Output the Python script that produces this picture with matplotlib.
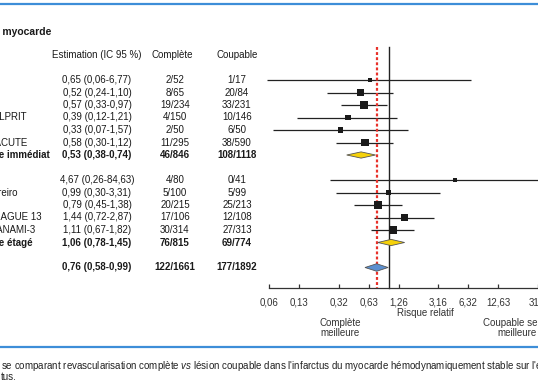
import numpy as np
import matplotlib.pyplot as plt
from matplotlib import transforms
from matplotlib.lines import Line2D

plt.rcParams['font.family'] = ['Liberation Sans Narrow', 'Liberation Sans', 'DejaVu Sans']
plt.rcParams['mathtext.fontset'] = 'custom'
plt.rcParams['mathtext.it'] = 'Liberation Sans:italic'
plt.rcParams['mathtext.rm'] = 'Liberation Sans'

# --- donnees ---
etudes_imm = ["Di Mario", "Politi", "PRAMI", "Gershlick CvLPRIT", "Hamza", "COMPARE-ACUTE"]
rr_imm = [0.65, 0.52, 0.57, 0.39, 0.33, 0.58]
bas_imm = [0.06, 0.24, 0.33, 0.12, 0.07, 0.30]
haut_imm = [6.77, 1.10, 0.97, 1.21, 1.57, 1.12]
comp_imm = ["2/52", "8/65", "19/234", "4/150", "2/50", "11/295"]
coup_imm = ["1/17", "20/84", "33/231", "10/146", "6/50", "38/590"]
poids_imm = [3.3, 10.1, 14.9, 7.4, 5.2, 11.6]

etudes_eta = ["Ghani", "Estévez-Loureiro", "Dambrink", "Hlinomaz PRAGUE 13", "Engstrøm DANAMI-3"]
rr_eta = [4.67, 0.99, 0.79, 1.44, 1.11]
bas_eta = [0.26, 0.30, 0.45, 0.72, 0.67]
haut_eta = [84.63, 3.31, 1.38, 2.87, 1.82]
comp_eta = ["4/80", "5/100", "20/215", "17/106", "30/314"]
coup_eta = ["0/41", "5/99", "25/213", "12/108", "27/313"]
poids_eta = [3.3, 5.2, 13.2, 10.1, 14.9]

sous_totaux = ["Sous-groupe immédiat", "Sous-groupe étagé", "Total"]
rr_tot = [0.53, 1.06, 0.76]
bas_tot = [0.38, 0.78, 0.58]
haut_tot = [0.74, 1.45, 0.99]
comp_tot = ["46/846", "76/815", "122/1661"]
coup_tot = ["108/1118", "69/774", "177/1892"]

ticks = [0.06, 0.13, 0.32, 0.63, 1.26, 3.16, 6.32, 12.63, 31.6]
tick_pos = [10 ** v for v in (-1.2, -0.9, -0.5, -0.2, 0.1, 0.5, 0.8, 1.1, 1.5)]


def fr(v, nd=2):
    return f"{v:.{nd}f}".replace('.', ',')


W, H = 538, 384
fig = plt.figure(figsize=(W / 100, H / 100), dpi=100)
ax = fig.add_axes([0, 0, 1, 1])
ax.set_xscale('log')
# 100 px par decade, RR = 1 a x = 390 px ; une ligne = 12,5 px, ligne 0 a y = 80 px
ax.set_xlim(10 ** (-390 / 100), 10 ** ((W - 390) / 100))
ax.set_ylim((H - 80) / 12.5, -80 / 12.5)

rows_imm = np.arange(len(rr_imm))
rows_eta = np.arange(len(rr_eta)) + len(rr_imm) + 2
rows_tot = [len(rr_imm), rows_eta[-1] + 1, rows_eta[-1] + 3]
y_axe = 16.64
y_haut = -2.64

# axe x
for s in ('top', 'left', 'right'):
    ax.spines[s].set_visible(False)
ax.spines['bottom'].set_position(('data', y_axe))
ax.spines['bottom'].set_bounds(tick_pos[0], 100)
ax.spines['bottom'].set_linewidth(0.9)
ax.spines['bottom'].set_color('#333333')
ax.set_xticks(tick_pos)
ax.set_xticklabels([fr(t, 1 if t > 20 else 2) for t in ticks])
ax.xaxis.set_minor_locator(plt.NullLocator())
ax.tick_params(axis='x', direction='in', length=3, width=0.9, pad=7,
               labelsize=7, colors='#333333')
ax.set_yticks([])
ax.patch.set_alpha(0)

# lignes verticales
ax.plot([1, 1], [y_haut, y_axe], color='#222222', lw=1.0, zorder=2)
ax.plot([rr_tot[2]] * 2, [y_haut, y_axe], color='#e8312a', lw=1.6,
        ls=(0, (1.3, 1.0)), zorder=3)

# etudes
for rows, rr, lo, hi, pw in ((rows_imm, rr_imm, bas_imm, haut_imm, poids_imm),
                             (rows_eta, rr_eta, bas_eta, haut_eta, poids_eta)):
    ax.hlines(rows, lo, hi, color='#222222', lw=0.9, zorder=2)
    side = 2.2 * np.sqrt(pw) * 0.72
    ax.scatter(rr, rows, marker='s', s=side ** 2, color='#1a1a1a', lw=0, zorder=4)

# losanges
couleurs = ['#f5d10a', '#f5d10a', '#5b8fcf']
for r, est, lo, hi, c, h in zip(rows_tot, rr_tot, bas_tot, haut_tot, couleurs, (0.25, 0.25, 0.3)):
    ax.fill([lo, est, hi, est], [r, r - h, r, r + h], facecolor=c,
            edgecolor='#555555', lw=0.6, zorder=4)

# tableau de gauche
tx = transforms.blended_transform_factory(fig.transFigure, ax.transData)
fs = 7
x_lab, x_est, x_comp, x_coup = -56 / W, 97 / W, 175 / W, 237 / W

ax.text(-60 / W, -3.84, "Infarctus du myocarde", transform=tx, ha='left', va='center',
        fontsize=7.5, fontweight='bold', color='#1a1a1a')
ax.text(97 / W, -2, "Estimation (IC 95 %)", transform=tx, ha='center', va='center', fontsize=fs, color='#1a1a1a')
ax.text(172 / W, -2, "Complète", transform=tx, ha='center', va='center', fontsize=fs, color='#1a1a1a')
ax.text(237 / W, -2, "Coupable", transform=tx, ha='center', va='center', fontsize=fs, color='#1a1a1a')

lignes = []
for i, r in enumerate(rows_imm):
    lignes.append((r, etudes_imm[i], rr_imm[i], bas_imm[i], haut_imm[i], comp_imm[i], coup_imm[i], 'normal'))
for i, r in enumerate(rows_eta):
    lignes.append((r, etudes_eta[i], rr_eta[i], bas_eta[i], haut_eta[i], comp_eta[i], coup_eta[i], 'normal'))
for i, r in enumerate(rows_tot):
    lignes.append((r, sous_totaux[i], rr_tot[i], bas_tot[i], haut_tot[i], comp_tot[i], coup_tot[i], 'bold'))

for r, nom, est, lo, hi, c1, c2, fw in lignes:
    kw = dict(transform=tx, va='center', fontsize=fs, fontweight=fw, color='#1a1a1a')
    ax.text(x_lab, r, nom, ha='left', **kw)
    ax.text(x_est, r, f"{fr(est)} ({fr(lo)}-{fr(hi)})", ha='center', **kw)
    ax.text(x_comp, r, c1, ha='center', **kw)
    ax.text(x_coup, r, c2, ha='center', **kw)

# legendes sous l'axe
ax.text(425 / W, 18.64, "Risque relatif", transform=tx, ha='center', va='center',
        fontsize=7, color='#333333')
ax.text(340 / W, 19.84, "Complète\nmeilleure", transform=tx, ha='center', va='center',
        fontsize=7, color='#333333', linespacing=1.05)
ax.text(517 / W, 19.84, "Coupable seule\nmeilleure", transform=tx, ha='center', va='center',
        fontsize=7, color='#333333', linespacing=1.05)

# filets bleus et legende de la figure
for y in (3.5, 347):
    fig.add_artist(Line2D([0, 1], [1 - y / H] * 2, transform=fig.transFigure,
                          color='#3d8ed8', lw=1.6))

cap = dict(va='center', fontsize=7.0, family=['Liberation Sans', 'DejaVu Sans'], color='#222222')
fig.text(-1 / W, 1 - 366 / H, "Figure 2. Méta-analy", ha='right', **cap)
fig.text(1 / W, 1 - 366 / H,
         "se comparant revascularisation complète $\\it{vs}$ lésion coupable dans l'infarctus "
         "du myocarde hémodynamiquement stable sur l'ensemble des essais", ha='left', **cap)
fig.text(-1 / W, 1 - 377 / H, "l'infarc", ha='right', **cap)
fig.text(1 / W, 1 - 377 / H, "tus.", ha='left', **cap)

fig.savefig('out.png', dpi=100)
